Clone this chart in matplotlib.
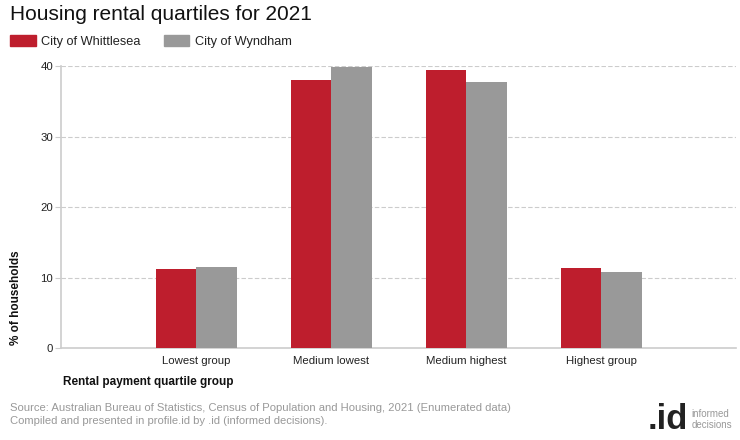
import matplotlib.pyplot as plt
import numpy as np

plt.rcParams['font.family'] = ['Liberation Sans', 'DejaVu Sans']

categories = ['Lowest group', 'Medium lowest', 'Medium highest', 'Highest group']
whittlesea = [11.2, 38.0, 39.4, 11.3]
wyndham = [11.5, 39.9, 37.7, 10.8]
series_names = ['City of Whittlesea', 'City of Wyndham']
colors = ['#BE1E2D', '#999999']

fig = plt.figure(figsize=(7.4, 4.4), dpi=100)
ax = fig.add_axes([0.083, 0.209, 0.912, 0.641])

x = np.arange(len(categories))
w = 0.30
ax.bar(x - w / 2, whittlesea, w, color=colors[0], zorder=3)
ax.bar(x + w / 2, wyndham, w, color=colors[1], zorder=3)

ax.set_xlim(-1, 4.0)
ax.set_ylim(0, 40)
ax.set_yticks([0, 10, 20, 30, 40])
ax.set_xticks(x)
ax.set_xticklabels(categories, fontsize=8.2, color='#222222')
ax.tick_params(axis='y', labelsize=8.2, colors='#222222', length=4, color='#cccccc', pad=2)
ax.tick_params(axis='x', length=0, pad=6)
ax.grid(axis='y', color='#cccccc', linestyle=(0, (4, 2)), linewidth=0.8, zorder=0)
for s in ['top', 'right']:
    ax.spines[s].set_visible(False)
for s in ['left', 'bottom']:
    ax.spines[s].set_color('#cccccc')
    ax.spines[s].set_linewidth(1.2)

# title and legend
fig.text(0.013, 0.966, 'Housing rental quartiles for 2021', fontsize=15,
         va='center', ha='left', color='#111111')
lx = 0.013
for name, c in zip(series_names, colors):
    fig.patches.append(plt.Rectangle((lx, 0.896), 0.035, 0.025,
                                     transform=fig.transFigure, color=c))
    fig.text(lx + 0.042, 0.904, name, fontsize=9.2, va='center', color='#222222')
    lx += 0.208

fig.text(0.022, 0.215, '% of households', rotation=90, fontsize=8.5,
         fontweight='bold', va='bottom', ha='center', color='#111111')
fig.text(0.085, 0.131, 'Rental payment quartile group', fontsize=8.5,
         fontweight='bold', va='center', ha='left', color='#111111')

fig.text(0.013, 0.072, 'Source: Australian Bureau of Statistics, Census of Population and Housing, 2021 (Enumerated data)',
         fontsize=8.1, color='#999999', va='center')
fig.text(0.013, 0.043, 'Compiled and presented in profile.id by .id (informed decisions).',
         fontsize=8.1, color='#999999', va='center')

# logo
fig.text(0.930, 0.026, '.id', fontsize=25, fontweight='bold', color='#222222',
         ha='right', va='baseline')
fig.text(0.934, 0.060, 'informed', fontsize=7, color='#999999', ha='left', va='center',
         family=['Liberation Sans Narrow', 'Liberation Sans'])
fig.text(0.934, 0.035, 'decisions', fontsize=7, color='#999999', ha='left', va='center',
         family=['Liberation Sans Narrow', 'Liberation Sans'])

fig.savefig('out.png', dpi=100)
